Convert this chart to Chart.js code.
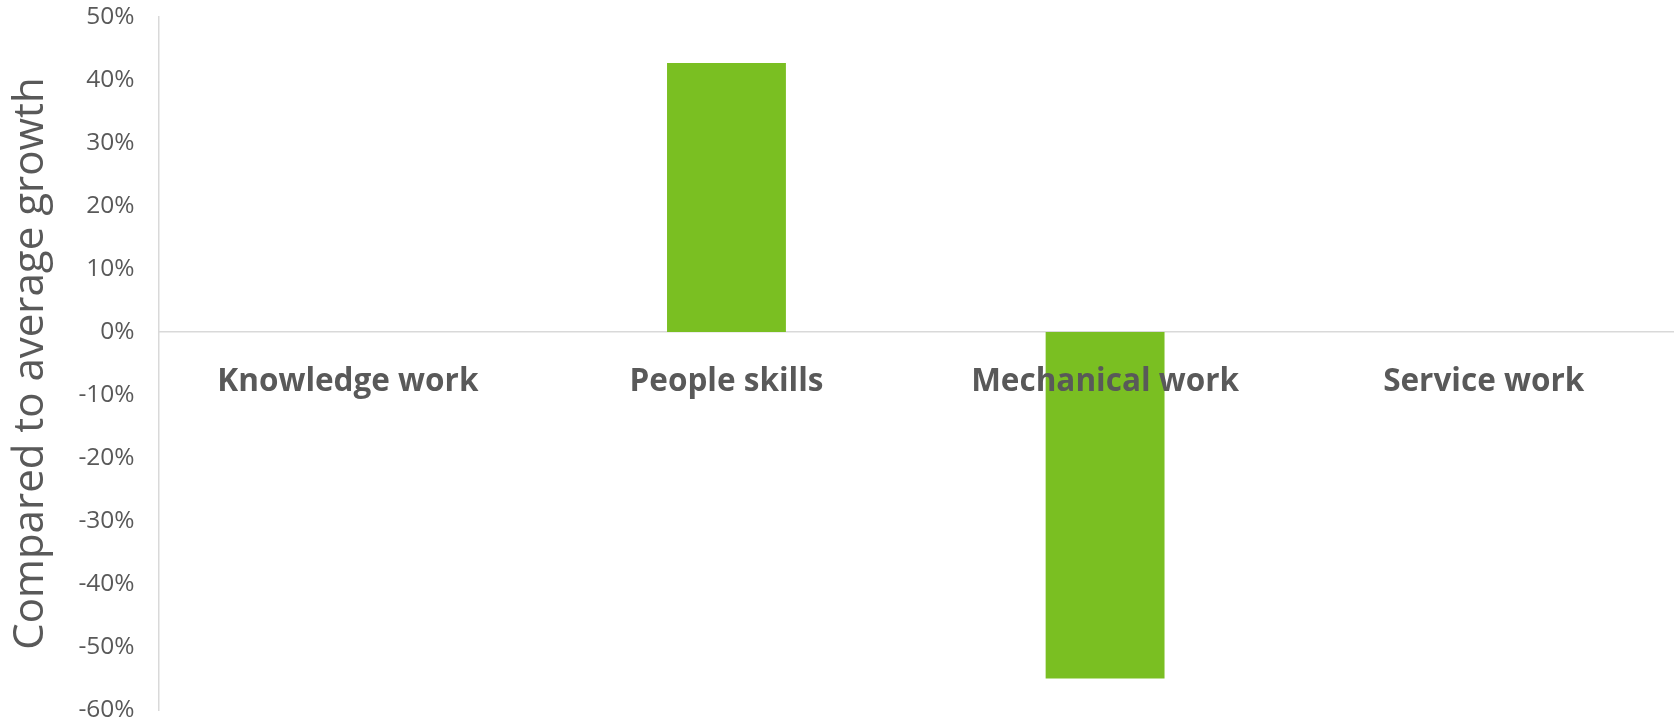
<!DOCTYPE html>
<html>
<head>
<meta charset="utf-8">
<script src="https://cdn.jsdelivr.net/npm/chart.js@4.4.1/dist/chart.umd.min.js"></script>
<style>
  html, body { margin: 0; padding: 0; background: #ffffff; }
  #wrap { width: 1674px; height: 723px; position: relative; }
</style>
</head>
<body>
<div id="wrap"><canvas id="growthChart"></canvas></div>
<script>
// categorias e valores (% acima/abaixo do crescimento médio)
const categorias = ['Knowledge work', 'People skills', 'Mechanical work', 'Service work'];
const valores = [null, 42.7, -55, null];
const eixoMin = -60;
const eixoMax = 50;
const eixoPasso = 10;

const corTexto = '#595959';
const corEixo = '#d9d9d9';
const corBarra = '#7abf22';

const ctx = document.getElementById('growthChart').getContext('2d');
const growthChart = new Chart(ctx, {
    type: 'bar',
    data: {
        labels: categorias,
        datasets: [{
            label: 'Growth',
            data: valores,
            backgroundColor: corBarra,
            borderWidth: 0,
            categoryPercentage: 1,
            barPercentage: 0.314
        }]
    },
    options: {
        responsive: true,
        maintainAspectRatio: false,
        animation: false,
        layout: { padding: { left: 6, right: 1, top: 0, bottom: 0 } },
        plugins: {
            legend: { display: false },
            tooltip: { enabled: false }
        },
        scales: {
            x: {
                position: { y: 0 }, // eixo das categorias cruza no zero
                grid: { display: false, drawTicks: false },
                border: { display: true, color: corEixo, width: 1.5 },
                ticks: {
                    z: 1, // rótulos por cima das barras
                    color: corTexto,
                    padding: 31,
                    maxRotation: 0,
                    font: { family: 'Open Sans', size: 31.5, weight: 'bold' }
                },
                afterFit: (scale) => { scale.height = 0; } // não reserva espaço embaixo
            },
            y: {
                min: eixoMin,
                max: eixoMax,
                grid: { display: false, drawTicks: false },
                border: { display: true, color: corEixo, width: 1.5 },
                ticks: {
                    stepSize: eixoPasso,
                    color: corTexto,
                    padding: 24,
                    font: { family: 'Open Sans', size: 24.5 },
                    callback: (v) => v + '%'
                },
                title: {
                    display: true,
                    text: 'Compared to average growth',
                    color: corTexto,
                    padding: { top: 0, bottom: -2 },
                    font: { family: 'Open Sans', size: 42 }
                },
                // o padding dos ticks não deve empurrar o topo/base do gráfico
                afterFit: (scale) => {
                    scale.paddingTop = 17;
                    scale.paddingBottom = 13;
                }
            }
        }
    }
});
</script>
</body>
</html>
